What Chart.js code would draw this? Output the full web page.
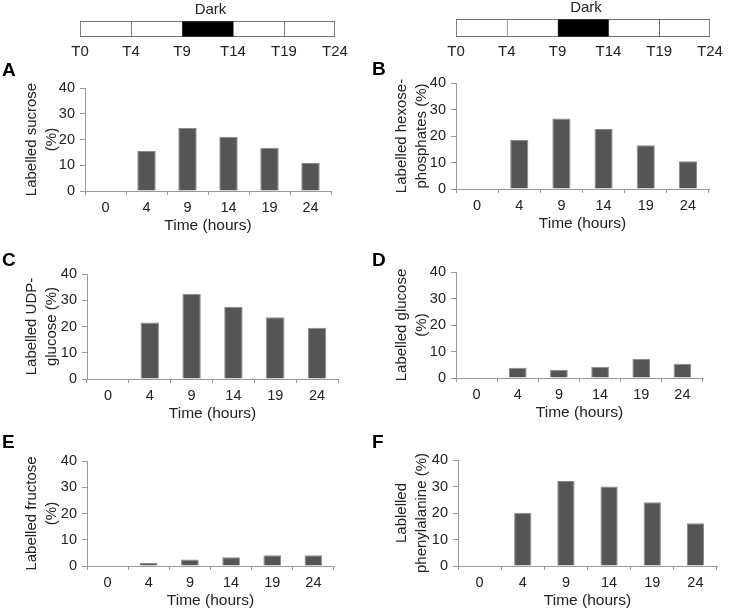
<!DOCTYPE html>
<html><head><meta charset="utf-8">
<script src="https://cdn.jsdelivr.net/npm/chart.js@4/dist/chart.umd.min.js"></script>
<style>
body{margin:0;background:#fff;width:735px;height:612px;position:relative;overflow:hidden;font-family:'Liberation Sans',Arial,sans-serif;}
canvas{position:absolute;}
.lbl{position:absolute;font-weight:bold;font-size:19px;line-height:19px;color:#000;}
</style></head><body>
<canvas id="tl1" width="370" height="68" style="left:0;top:0"></canvas>
<canvas id="tl2" width="365" height="68" style="left:370px;top:0"></canvas>
<canvas id="cA" width="345" height="163" style="left:0;top:73px"></canvas>
<canvas id="cB" width="365" height="166" style="left:370px;top:68px"></canvas>
<canvas id="cC" width="345" height="165" style="left:0;top:259px"></canvas>
<canvas id="cD" width="365" height="166" style="left:370px;top:257px"></canvas>
<canvas id="cE" width="345" height="165" style="left:0;top:446px"></canvas>
<canvas id="cF" width="365" height="166" style="left:370px;top:445px"></canvas>
<div class="lbl" style="left:2px;top:60px">A</div>
<div class="lbl" style="left:372px;top:59px">B</div>
<div class="lbl" style="left:2px;top:250px">C</div>
<div class="lbl" style="left:372px;top:250px">D</div>
<div class="lbl" style="left:2px;top:432px">E</div>
<div class="lbl" style="left:372px;top:432px">F</div>
<script>
// ---- data ----
const timeCategories = ['0', '4', '9', '14', '19', '24'];
const timelineLabels = ['T0', 'T4', 'T9', 'T14', 'T19', 'T24'];
const timelineSegments = [1, 1, 1, 1, 1];            // five equal periods
const timelineDark = [false, false, true, false, false];
const darkLabel = 'Dark';
const xTitle = 'Time (hours)';

const sucrose          = [0, 15.5, 24.5, 21.1, 16.8, 10.9];
const hexosePhosphates = [0, 18.5, 26.6, 22.6, 16.5, 10.5];
const udpGlucose       = [0, 21.5, 32.5, 27.5, 23.5, 19.5];
const glucose          = [0, 3.9, 3.1, 4.2, 7.2, 5.4];
const fructose         = [0, 1.1, 2.5, 3.3, 4.1, 4.1];
const phenylalanine    = [0, 20.1, 32.1, 30.0, 24.1, 16.1];

const yMin = 0, yMax = 40, yStep = 10;

// ---- style ----
const FONT = "'Liberation Sans', Arial, sans-serif";
Chart.defaults.font.family = FONT;
Chart.defaults.color = '#222';
Chart.defaults.animation = false;
const AXIS = '#9a9a9a';
const BAR = '#555555';

// ---- timelines ----
const darkPlugin = {
  id: 'darkLabel',
  afterDraw(chart) {
    const idx = timelineDark.indexOf(true);
    const el = chart.getDatasetMeta(idx).data[0];
    const ctx = chart.ctx;
    ctx.save();
    ctx.font = '15px ' + FONT;
    ctx.fillStyle = '#222';
    ctx.textAlign = 'center';
    ctx.textBaseline = 'middle';
    ctx.fillText(darkLabel, (el.x + el.base) / 2 + 3, chart.chartArea.top - 11);
    ctx.restore();
  }
};

function makeTimeline(id, padLeft, padRight, padTop) {
  new Chart(document.getElementById(id), {
    type: 'bar',
    data: {
      labels: [''],
      datasets: timelineSegments.map((v, i) => ({
        data: [v],
        backgroundColor: timelineDark[i] ? '#000' : '#fff',
        borderColor: '#444',
        borderWidth: {top: 1, bottom: 1, left: 1, right: i === timelineSegments.length - 1 ? 1 : 0},
        borderSkipped: false,
        categoryPercentage: 1, barPercentage: 1
      }))
    },
    options: {
      indexAxis: 'y', responsive: false, devicePixelRatio: 1,
      layout: {padding: {left: padLeft, right: padRight, top: padTop, bottom: 0}},
      plugins: {legend: {display: false}, tooltip: {enabled: false}},
      scales: {
        y: {display: false, stacked: true},
        x: {
          stacked: true, min: 0, max: timelineSegments.length,
          grid: {display: false, drawTicks: false}, border: {display: false},
          ticks: {stepSize: 1, padding: 6, font: {size: 15}, color: '#222',
                  callback: v => timelineLabels[v]},
          afterFit: s => { s.height = 31; }
        }
      }
    },
    plugins: [darkPlugin]
  });
}
makeTimeline('tl1', 80, 35, 21);
makeTimeline('tl2', 86, 25, 19);

// ---- bar panels ----
function makePanel(id, values, yTitle, yWidth, padRight, barPct) {
  new Chart(document.getElementById(id), {
    type: 'bar',
    data: {
      labels: timeCategories,
      datasets: [{
        data: values, backgroundColor: BAR, borderColor: '#8a8a8a', borderWidth: 1,
        categoryPercentage: 1, barPercentage: barPct
      }]
    },
    options: {
      responsive: false, devicePixelRatio: 1,
      layout: {padding: {left: 0, right: padRight, top: 15, bottom: 0}},
      plugins: {legend: {display: false}, tooltip: {enabled: false}},
      scales: {
        x: {
          offset: true,
          grid: {offset: true, drawOnChartArea: false, drawTicks: true, tickLength: 4, color: AXIS},
          border: {color: AXIS},
          ticks: {font: {size: 14.5}, padding: 4, color: '#222'},
          title: {display: true, text: xTitle, font: {size: 15.5}, color: '#222', padding: {top: 0, bottom: 1}},
          afterFit: s => { s.height = 45; }
        },
        y: {
          min: yMin, max: yMax,
          grid: {drawOnChartArea: false, drawTicks: true, tickLength: 5, color: AXIS},
          border: {color: AXIS},
          ticks: {stepSize: yStep, font: {size: 14.5}, padding: 5, color: '#222'},
          title: {display: true, text: yTitle, font: {size: 15, lineHeight: 1.3333}, color: '#222',
                  padding: {top: 21.5, bottom: 0}},
          afterFit: s => { s.width = yWidth; }
        }
      }
    }
  });
}

makePanel('cA', sucrose, ['Labelled sucrose', '(%)'], 85, 14, 0.45);
makePanel('cB', hexosePhosphates, ['Labelled hexose-', 'phosphates (%)'], 86, 26, 0.43);
makePanel('cC', udpGlucose, ['Labelled UDP-', 'glucose (%)'], 87, 7, 0.44);
makePanel('cD', glucose, ['Labelled glucose', '(%)'], 86, 32, 0.43);
makePanel('cE', fructose, ['Labelled fructose', '(%)'], 87, 11, 0.43);
makePanel('cF', phenylalanine, ['Lablelled', 'phenylalanine (%)'], 88, 18, 0.4);
</script>
</body></html>
